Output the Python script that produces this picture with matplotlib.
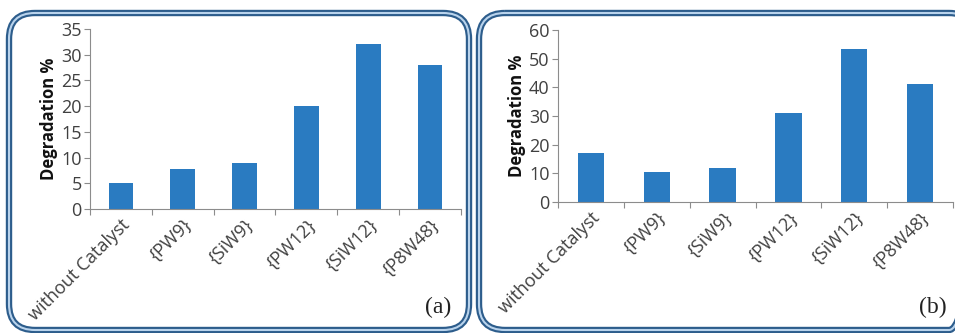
import matplotlib
matplotlib.use('Agg')
import matplotlib.pyplot as plt
from matplotlib.patches import FancyBboxPatch

# Данные
categories = ['without Catalyst', '{PW9}', '{SiW9}', '{PW12}', '{SiW12}', '{P8W48}']
deg_a = [5, 7.8, 9, 20, 32, 28]
deg_b = [17, 10.3, 12, 31, 53.5, 41]

bar_color = '#2a7bc1'
gray = '#8c8c8c'
text_gray = '#404040'

plt.rcParams['font.family'] = ['Open Sans', 'DejaVu Sans']

fig = plt.figure(figsize=(9.55, 3.33), dpi=100)

# Рамки панелей (координаты в пикселях)
bg = fig.add_axes([0, 0, 1, 1], zorder=0)
bg.set_xlim(0, 955)
bg.set_ylim(333, 0)
bg.axis('off')
for x0, x1 in [(9, 469), (479, 975)]:
    for lw, col in [(4.6, '#2d5d8c'), (1.5, '#b9d3ec')]:
        bg.add_patch(FancyBboxPatch((x0, 13), x1 - x0, 317,
                                    boxstyle='round,pad=0,rounding_size=26',
                                    fill=False, edgecolor=col, linewidth=lw))

bg.text(438, 307, '(a)', family='Liberation Serif', fontsize=17,
        ha='center', va='center', color='#222222')
bg.text(933, 307, '(b)', family='Liberation Serif', fontsize=17,
        ha='center', va='center', color='#222222')


def draw_panel(rect, values, ymax, step):
    ax = fig.add_axes(rect, zorder=1)
    ax.patch.set_alpha(0)
    x = range(len(categories))
    ax.bar(x, values, width=0.4, color=bar_color)
    ax.set_xlim(-0.5, len(categories) - 0.5)
    ax.set_ylim(0, ymax)
    ax.set_yticks(range(0, ymax + 1, step))
    ax.set_xticks(x)
    ax.set_xticklabels(categories, rotation=45, ha='right', rotation_mode='anchor',
                       fontsize=13, color=text_gray)
    ax.set_xticks([i - 0.5 for i in range(len(categories) + 1)], minor=True)
    ax.tick_params(axis='x', which='major', length=0, pad=5)
    ax.tick_params(axis='x', which='minor', length=4, color=gray, width=0.8)
    ax.tick_params(axis='y', length=4, color=gray, width=0.8, labelsize=13,
                   labelcolor=text_gray, pad=2)
    for s in ['top', 'right']:
        ax.spines[s].set_visible(False)
    for s in ['left', 'bottom']:
        ax.spines[s].set_color(gray)
        ax.spines[s].set_linewidth(0.8)
    ax.set_ylabel('Degradation %', fontsize=12, fontweight='bold', color='#111111',
                  labelpad=2)
    return ax


draw_panel([0.0942, 0.3724, 0.3885, 0.5405], deg_a, 35, 5)
draw_panel([0.5843, 0.3934, 0.4136, 0.5165], deg_b, 60, 10)

fig.savefig('out.png', dpi=100)
